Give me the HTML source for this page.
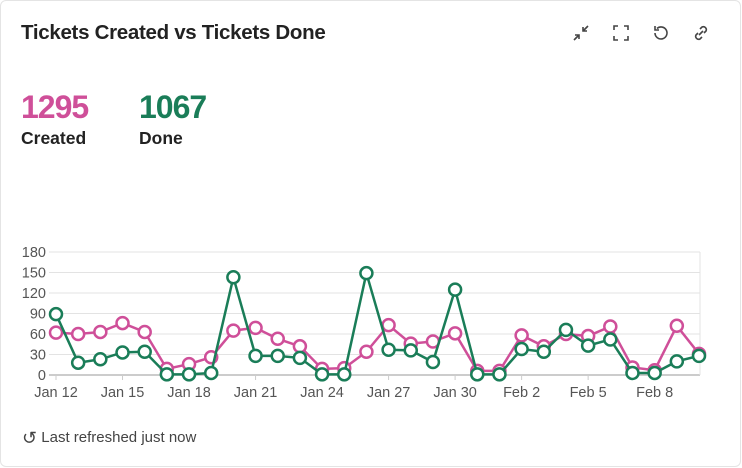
<!DOCTYPE html>
<html><head><meta charset="utf-8"><style>
body{margin:0;width:742px;height:467px;background:#fff;font-family:"Liberation Sans",sans-serif;overflow:hidden}
.card{position:absolute;left:0;top:0;width:739px;height:465px;border:1px solid #e4e4e4;border-radius:6px;background:#fff}
.title{position:absolute;left:20px;top:20px;font-size:20.5px;font-weight:bold;color:#222;letter-spacing:-0.3px}
.icon{position:absolute;top:22px;width:20px;height:20px}
.num{position:absolute;top:88px;font-size:32px;font-weight:bold;letter-spacing:-1px}
.lbl{position:absolute;top:127px;font-size:17.5px;font-weight:bold;color:#222}
.foot{position:absolute;left:21px;top:427px;font-size:15px;color:#444}
</style></head><body>
<div class="card">
<div class="title">Tickets Created vs Tickets Done</div>
<svg class="icon" style="left:570px" viewBox="0 0 20 20" fill="none" stroke="#444" stroke-width="1.6"><path d="M3 17l5-5M4 12h4v4M17 3l-5 5M12 4v4h4"/></svg>
<svg class="icon" style="left:610px" viewBox="0 0 20 20" fill="none" stroke="#444" stroke-width="1.6"><path d="M3 7V3h4M13 3h4v4M17 13v4h-4M7 17H3v-4"/></svg>
<svg class="icon" style="left:650px" viewBox="0 0 20 20" fill="none" stroke="#444" stroke-width="1.6"><path d="M4 10a6 6 0 1 0 2-4.5M4 3v4h4"/></svg>
<svg class="icon" style="left:690px" viewBox="0 0 20 20" fill="none" stroke="#444" stroke-width="1.6"><path d="M8 12l4-4M9 6l2-2a3 3 0 0 1 4 4l-2 2M11 14l-2 2a3 3 0 0 1-4-4l2-2"/></svg>
<div class="num" style="left:20px;color:#cf4f99">1295</div>
<div class="num" style="left:138px;color:#1a7d58">1067</div>
<div class="lbl" style="left:20px">Created</div>
<div class="lbl" style="left:138px">Done</div>
<svg id="chart" style="position:absolute;left:0;top:0" width="742" height="467"></svg>
<div class="foot"><span style="font-size:18px;vertical-align:-2px">&#x21BA;</span> Last refreshed just now</div>
</div>
<script>
const dates=["Jan 12","Jan 13","Jan 14","Jan 15","Jan 16","Jan 17","Jan 18","Jan 19","Jan 20","Jan 21","Jan 22","Jan 23","Jan 24","Jan 25","Jan 26","Jan 27","Jan 28","Jan 29","Jan 30","Jan 31","Feb 1","Feb 2","Feb 3","Feb 4","Feb 5","Feb 6","Feb 7","Feb 8","Feb 9","Feb 10"];
const created=[62,60,63,76,63,9,16,26,65,69,53,42,9,10,34,73,46,49,61,6,6,58,42,60,57,71,11,7,72,31];
const done=[89,18,23,33,34,1,1,3,143,28,28,25,1,1,149,37,36,19,125,1,1,38,34,66,43,52,3,3,20,28];
const yTicks=[0,30,60,90,120,150,180];
const xTickIdx=[0,3,6,9,12,15,18,21,24,27];
const svg=document.getElementById('chart');const NS='http://www.w3.org/2000/svg';
const x=i=>55+i*(698-55)/(dates.length-1);
const y=v=>374-v*(374-251)/180;
function mk(t,a){const e=document.createElementNS(NS,t);for(const k in a)e.setAttribute(k,a[k]);svg.appendChild(e);return e;}
yTicks.forEach(v=>{
const l=mk('line',{x1:48,x2:699,y1:y(v),y2:y(v),stroke:v===0?'#bbb':'#e3e3e3','stroke-width':v===0?1.5:1});


const t=mk('text',{x:45,y:y(v)+5,'text-anchor':'end','font-size':14.5,fill:'#555','font-family':'Liberation Sans, sans-serif'});t.textContent=v;


});
mk('line',{x1:699,x2:699,y1:251,y2:374,stroke:'#e3e3e3'});
xTickIdx.forEach(i=>{
mk('line',{x1:x(i),x2:x(i),y1:374,y2:379,stroke:'#ccc'});
const t=mk('text',{x:x(i),y:396,'text-anchor':'middle','font-size':14.5,fill:'#555','font-family':'Liberation Sans, sans-serif'});t.textContent=dates[i];


});
function series(vals,color,name){
const p=mk('polyline',{points:vals.map((v,i)=>x(i)+','+y(v)).join(' '),fill:'none',stroke:color,'stroke-width':2.5});


vals.forEach((v,i)=>{const c=mk('circle',{cx:x(i),cy:y(v),r:6,fill:'#fff',stroke:color,'stroke-width':2.5});

});
}
series(created,'#cf4f99','created');
series(done,'#1a7d58','done');
</script>
</body></html>
